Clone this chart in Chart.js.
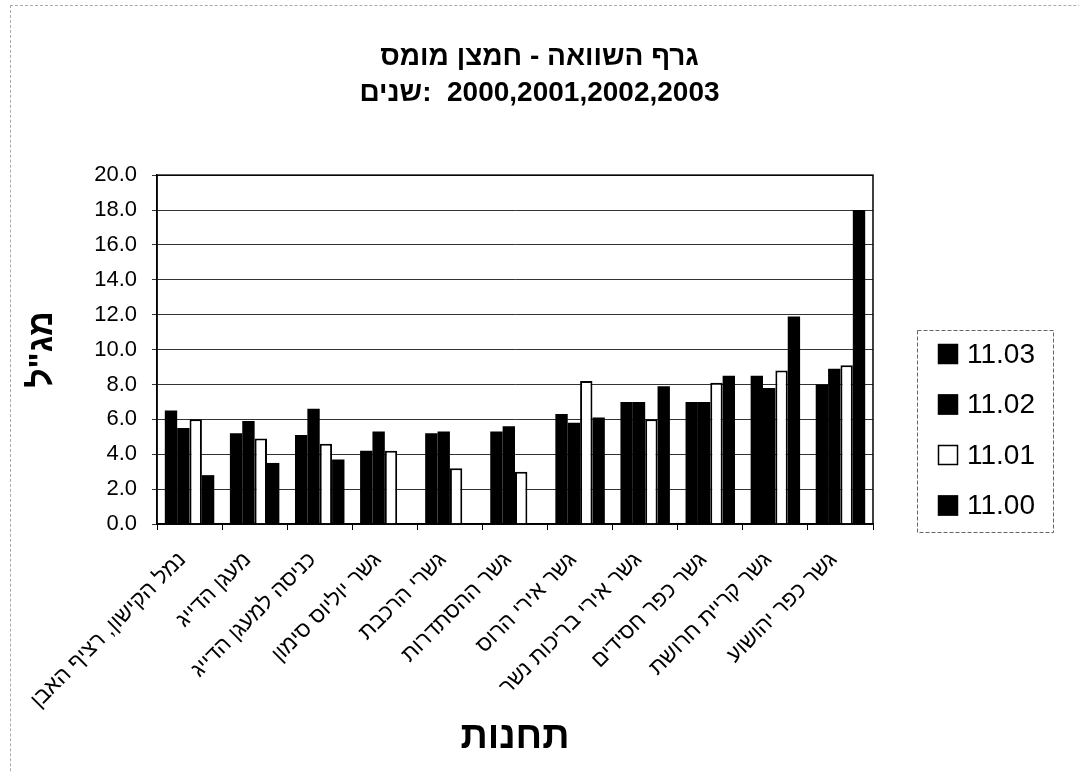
<!DOCTYPE html>
<html lang="he" dir="ltr">
<head>
<meta charset="utf-8">
<script src="https://cdn.jsdelivr.net/npm/chart.js@4.4.1/dist/chart.umd.min.js"></script>
<style>
  html, body { margin: 0; padding: 0; background: #fff; }
  #wrap { position: relative; width: 1079px; height: 772px; overflow: hidden; }
  #chart { position: absolute; left: 0; top: 0; }
  /* faint dashed outline of the scanned sheet */
  #sheet { position: absolute; left: 10px; top: 5px; width: 1300px; height: 900px;
           border-left: 1px dashed #aaa; border-top: 1px dashed #aaa; pointer-events: none; }
</style>
</head>
<body>
<div id="wrap">
  <canvas id="chart" width="1079" height="772"></canvas>
  <div id="sheet"></div>
</div>
<script>
const FONT = "'Liberation Sans', Arial, sans-serif";

const titleLines = ["גרף השוואה - חמצן מומס", "שנים:\u200E  2000,2001,2002,2003"];
const yTitle = 'מג"ל';
const xTitle = "תחנות";

const stations = [
  "נמל הקישון, רציף האבן",
  "מעגן הדייג",
  "כניסה למעגן הדייג",
  "גשר יוליוס סימון",
  "גשרי הרכבת",
  "גשר ההסתדרות",
  "גשר אירי הרוס",
  "גשר אירי בריכות נשר",
  "גשר כפר חסידים",
  "גשר קריית חרושת",
  "גשר כפר יהושוע"
];

const seriesNames = ["11.03", "11.02", "11.01", "11.00"];
const values1103 = [6.5, 5.2, 5.1, 4.2, 5.2, 5.3, 6.3, 7.0, 7.0, 8.5, 8.0];
const values1102 = [5.5, 5.9, 6.6, 5.3, 5.3, 5.6, 5.8, 7.0, 7.0, 7.8, 8.9];
const values1101 = [6.0, 4.9, 4.6, 4.2, 3.2, 3.0, 8.2, 6.0, 8.1, 8.8, 9.1];
const values1100 = [2.8, 3.5, 3.7, null, null, null, 6.1, 7.9, 8.5, 11.9, 18.0];

const yTickValues = [0, 2, 4, 6, 8, 10, 12, 14, 16, 18, 20];

// legend box drawn at the right, like the Excel one
const legendBox = {
  id: "legendBox",
  afterDraw(chart) {
    const ctx = chart.ctx;
    ctx.save();
    ctx.setLineDash([4, 2]);
    ctx.strokeStyle = "#666";
    ctx.lineWidth = 1;
    ctx.strokeRect(917.5, 330.5, 136, 202);
    ctx.setLineDash([]);
    ctx.font = "28px " + FONT;
    ctx.textAlign = "left";
    ctx.textBaseline = "middle";
    chart.data.datasets.forEach((ds, i) => {
      const cy = 354 + i * 50.5;
      ctx.fillStyle = ds.backgroundColor;
      ctx.fillRect(938, cy - 10, 20, 20);
      ctx.strokeStyle = "#000";
      ctx.lineWidth = 1.5;
      ctx.strokeRect(938.5, cy - 9.5, 19, 19);
      ctx.fillStyle = "#000";
      ctx.fillText(ds.label, 967, cy + 1);
    });
    ctx.restore();
  }
};

// black frame round the plot area
const plotFrame = {
  id: "plotFrame",
  afterDatasetsDraw(chart) {
    const { ctx, chartArea: a } = chart;
    ctx.save();
    ctx.strokeStyle = "#000";
    ctx.lineWidth = 1.5;
    ctx.strokeRect(a.left, a.top, a.right - a.left, a.bottom - a.top);
    ctx.restore();
  }
};

function barSet(label, data, fill) {
  return {
    label: label,
    data: data,
    backgroundColor: fill,
    borderColor: "#000",
    borderWidth: fill === "#ffffff" ? 2 : 0,
    categoryPercentage: 0.76,
    barPercentage: 1.0
  };
}

new Chart(document.getElementById("chart"), {
  type: "bar",
  data: {
    labels: stations,
    datasets: [
      barSet(seriesNames[0], values1103, "#000000"),
      barSet(seriesNames[1], values1102, "#000000"),
      barSet(seriesNames[2], values1101, "#ffffff"),
      barSet(seriesNames[3], values1100, "#000000")
    ]
  },
  options: {
    responsive: false,
    animation: false,
    devicePixelRatio: 1,
    layout: { padding: 0 },
    plugins: {
      legend: { display: false },
      tooltip: { enabled: false },
      title: {
        display: true,
        text: titleLines,
        color: "#000",
        font: { family: FONT, size: 28, weight: "bold", lineHeight: 1.27 },
        padding: { top: 40, bottom: 64 }
      }
    },
    scales: {
      x: {
        grid: { display: true, drawOnChartArea: false, drawTicks: true, tickLength: 6, color: "#000", offset: true },
        border: { display: true, color: "#000", width: 1.5 },
        ticks: {
          color: "#000",
          font: { family: FONT, size: 22 },
          minRotation: 45,
          maxRotation: 45,
          autoSkip: false,
          labelOffset: -7,
          padding: 17
        },
        title: {
          display: true,
          text: xTitle,
          color: "#000",
          font: { family: FONT, size: 38, weight: "bold" },
          padding: { top: 0, bottom: 12 }
        },
        afterFit: (s) => { s.height = 248; }
      },
      y: {
        min: 0,
        max: 20,
        afterBuildTicks: (s) => { s.ticks = yTickValues.map((v) => ({ value: v })); },
        grid: { color: "#333", lineWidth: 1, drawTicks: true, tickLength: 5 },
        border: { display: true, color: "#000", width: 1.5 },
        ticks: {
          color: "#000",
          font: { family: FONT, size: 22 },
          padding: 15,
          callback: (v) => Number(v).toFixed(1)
        },
        title: {
          display: true,
          text: yTitle,
          color: "#000",
          font: { family: FONT, size: 34, weight: "bold" },
          padding: { top: 22 }
        },
        afterFit: (s) => { s.width = 157; }
      },
      // empty right-hand axis that only reserves the legend's column
      legendSpace: {
        type: "linear",
        position: "right",
        display: true,
        grid: { display: false },
        border: { display: false },
        ticks: { display: false },
        afterFit: (s) => { s.width = 206; }
      }
    }
  },
  plugins: [legendBox, plotFrame]
});
</script>
</body>
</html>
